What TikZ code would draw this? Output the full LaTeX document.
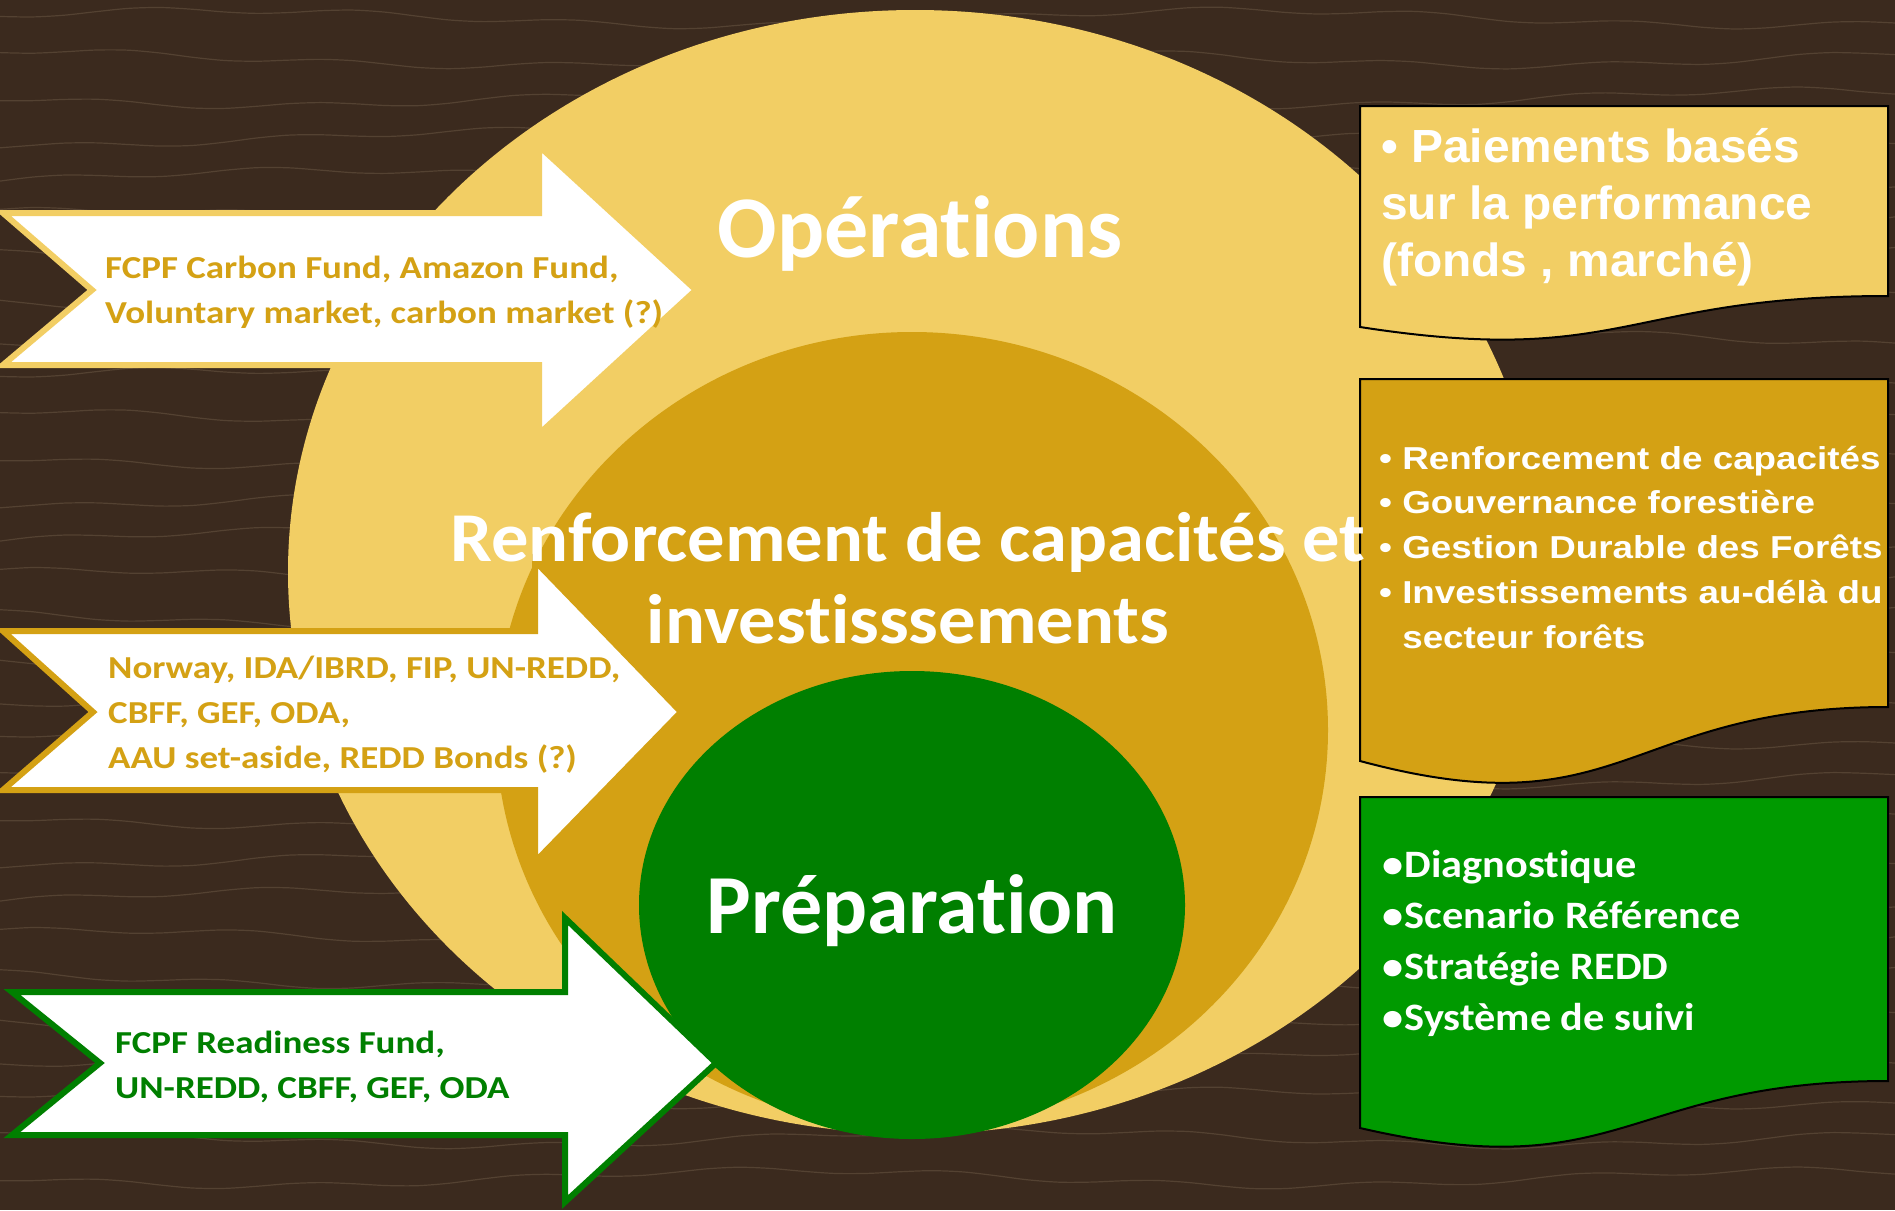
\documentclass[tikz,border=0pt]{standalone}
\usepackage{fontspec}
\setmainfont{Carlito}[Ligatures=NoCommon]
\newfontfamily\invfont{Carlito}[Ligatures=NoCommon, FakeStretch=1.065]
\newfontfamily\fundfont{Carlito}[Ligatures=NoCommon, FakeStretch=1.155]
\newfontfamily\prepfont{Carlito}[Ligatures=NoCommon, FakeStretch=1.09]
\newfontfamily\arialfont{Liberation Sans}[FakeStretch=1.03]
\newfontfamily\arialwide{Liberation Sans}[FakeStretch=1.16]
\definecolor{bgbrown}{HTML}{3B2A1E}
\definecolor{woodline}{HTML}{7A6650}
\definecolor{opyellow}{HTML}{F2CE64}
\definecolor{invgold}{HTML}{D4A114}
\definecolor{prepgreen}{HTML}{007F00}
\definecolor{boxgreen}{HTML}{009A00}
\tikzset{
	op/.style={opyellow},
	inv/.style={invgold},
	pr/.style={prepgreen},
	grain/.style={woodline, opacity=0.4, line width=1.2},
	arrw/.style={fill=white, line width=6, line join=miter},
	docbox/.style={draw=black, line width=2},
	lbl/.style n args={3}{text=white, inner sep=0, font=#1\bfseries\fontsize{#2}{#3}\selectfont},
}

\begin{document}
\begin{tikzpicture}[x=1pt, y=-1pt]
	\useasboundingbox (0,0) rectangle (1895,1210);
	\fill [bgbrown] (0,0) rectangle (1895,1210);
	\foreach \g in {18,58,...,1210}
		\draw [grain] plot[domain=0:1895, samples=60, smooth] (\x, {\g+8*sin(0.35*\x+11*\g)+3*sin(1.7*\x+\g)});

	\fill [op] (915,572) ellipse [x radius=627, y radius=562];
	\fill [inv] (912,730) ellipse [x radius=416, y radius=398];
	\fill [pr] (912,905) ellipse [x radius=273, y radius=234];

	\filldraw [arrw, draw=opyellow] (3,213) -- (539,213) -- (539,146) -- (696,290) -- (539,434) -- (539,365) -- (3,365) -- (92,290) -- cycle;
	\filldraw [arrw, draw=invgold] (3,631) -- (535,631) -- (535,561) -- (681,712) -- (535,862) -- (535,790) -- (3,790) -- (93,712) -- cycle;
	\filldraw [arrw, draw=prepgreen] (12,992) -- (565,992) -- (565,918) -- (716,1063) -- (565,1202) -- (565,1135) -- (12,1135) -- (100,1063) -- cycle;

	\filldraw [docbox, fill=opyellow] (1360,106) -- (1888,106) -- (1888,296) .. controls (1624,296) and (1624,368) .. (1360,327) -- cycle;
	\filldraw [docbox, fill=invgold] (1360,379) -- (1888,379) -- (1888,707) .. controls (1624,707) and (1624,832) .. (1360,761) -- cycle;
	\filldraw [docbox, fill=boxgreen] (1360,797) -- (1888,797) -- (1888,1081) .. controls (1624,1081) and (1624,1189) .. (1360,1128) -- cycle;

	% circle titles
	\node [lbl={}{88}{88}, anchor=base] (ops) at (920,257) {Opérations};
	\node [lbl={\invfont}{70}{82}, anchor=base, align=center] (inv) at (908,643) {Renforcement de capacités et\\investisssements};
	\node [lbl={}{84}{84}, anchor=base] (prep) at (912,933) {Préparation};

	% funds (last baseline)
	\node [lbl={\fundfont}{32}{45}, text=invgold, anchor=base west, align=left] (fundop) at (105,323) {FCPF Carbon Fund, Amazon Fund,\\Voluntary market, carbon market (?)};
	\node [lbl={\fundfont}{32}{45}, text=invgold, anchor=base west, align=left] (fundinv) at (108,768) {Norway, IDA/IBRD, FIP, UN-REDD,\\CBFF, GEF, ODA,\\AAU set-aside, REDD Bonds (?)};
	\node [lbl={\fundfont}{32}{45}, text=prepgreen, anchor=base west, align=left] (fundprep) at (115,1098) {FCPF Readiness Fund,\\UN-REDD, CBFF, GEF, ODA};

	% lists
	\node [lbl={\arialfont}{46.5}{57}, anchor=base west, align=left] (listop) at (1381,276) {• Paiements basés\\sur la performance\\(fonds , marché)};
	\node [lbl={\arialwide}{31.7}{44.7}, anchor=base west, align=left] (listinv) at (1379,648) {• Renforcement de capacités\\• Gouvernance forestière\\• Gestion Durable des Forêts\\• Investissements au-délà du\\\hphantom{• }secteur forêts};
	\node [lbl={\prepfont}{38.8}{51}, anchor=base west, align=left] (listprep) at (1382,1030) {•\kern1.5pt Diagnostique\\•\kern1.5pt Scenario Référence\\•\kern1.5pt Stratégie REDD\\•\kern1.5pt Système de suivi};
\end{tikzpicture}
\end{document}
